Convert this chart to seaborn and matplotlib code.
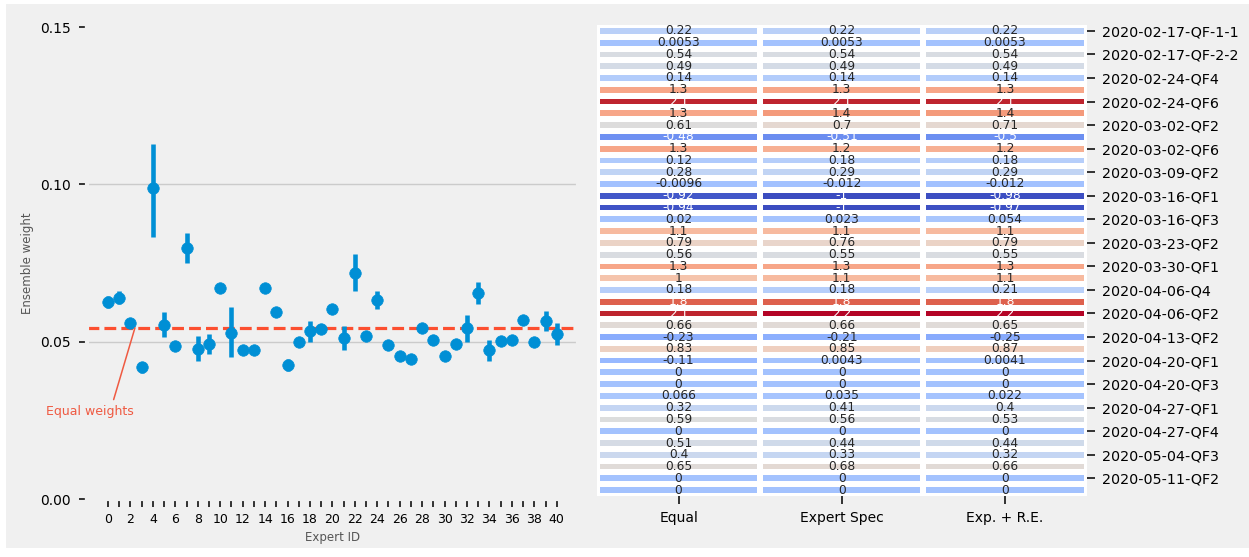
import matplotlib
matplotlib.use('Agg')
import matplotlib.pyplot as plt
from matplotlib.patches import Rectangle
import numpy as np
import pandas as pd
import seaborn as sns

plt.style.use('fivethirtyeight')

# ---- left panel: ensemble weight per expert (point, lower, upper) ----
expert_ids = list(range(41))
weight_mid = [0.0627, 0.0639, 0.0560, 0.0418, 0.0987, 0.0553, 0.0487, 0.0797, 0.0478, 0.0494,
              0.0671, 0.0529, 0.0475, 0.0472, 0.0671, 0.0595, 0.0427, 0.0500, 0.0533, 0.0541,
              0.0604, 0.0513, 0.0718, 0.0519, 0.0633, 0.0491, 0.0456, 0.0446, 0.0544, 0.0506,
              0.0456, 0.0494, 0.0544, 0.0655, 0.0475, 0.0503, 0.0506, 0.0570, 0.0500, 0.0566,
              0.0525]
weight_lo = [0.0606, 0.0620, 0.0555, 0.0400, 0.0832, 0.0515, 0.0487, 0.0750, 0.0440, 0.0461,
             0.0671, 0.0450, 0.0465, 0.0462, 0.0671, 0.0595, 0.0408, 0.0490, 0.0500, 0.0530,
             0.0604, 0.0475, 0.0660, 0.0510, 0.0603, 0.0482, 0.0448, 0.0440, 0.0535, 0.0490,
             0.0443, 0.0485, 0.0500, 0.0620, 0.0440, 0.0503, 0.0506, 0.0562, 0.0492, 0.0535,
             0.0490]
weight_hi = [0.0646, 0.0660, 0.0565, 0.0436, 0.1127, 0.0595, 0.0487, 0.0845, 0.0518, 0.0525,
             0.0671, 0.0611, 0.0485, 0.0482, 0.0671, 0.0595, 0.0446, 0.0510, 0.0566, 0.0555,
             0.0604, 0.0550, 0.0778, 0.0530, 0.0660, 0.0500, 0.0465, 0.0452, 0.0553, 0.0520,
             0.0468, 0.0504, 0.0585, 0.0690, 0.0506, 0.0503, 0.0506, 0.0580, 0.0508, 0.0598,
             0.0560]
equal_weight = 0.0544

# ---- right panel: heatmap ----
question_ids = [
    '2020-02-17-QF-1-1', '2020-02-17-QF-1-2', '2020-02-17-QF-2-2', '2020-02-24-QF3',
    '2020-02-24-QF4', '2020-02-24-QF5', '2020-02-24-QF6', '2020-03-02-QF1',
    '2020-03-02-QF2', '2020-03-02-QF4', '2020-03-02-QF6', '2020-03-09-QF1',
    '2020-03-09-QF2', '2020-03-09-QF3', '2020-03-16-QF1', '2020-03-16-QF2',
    '2020-03-16-QF3', '2020-03-23-QF1', '2020-03-23-QF2', '2020-03-23-QF3',
    '2020-03-30-QF1', '2020-03-30-QF2', '2020-04-06-Q4', '2020-04-06-QF1',
    '2020-04-06-QF2', '2020-04-06-QF3', '2020-04-13-QF2', '2020-04-13-QF3',
    '2020-04-20-QF1', '2020-04-20-QF2', '2020-04-20-QF3', '2020-04-20-QF4',
    '2020-04-27-QF1', '2020-04-27-QF2', '2020-04-27-QF4', '2020-05-04-QF1',
    '2020-05-04-QF3', '2020-05-04-QF4', '2020-05-11-QF2', '2020-05-11-QF3',
]
methods = ['Equal', 'Expert Spec', 'Exp. + R.E.']
equal_vals = [0.22, 0.0053, 0.54, 0.49, 0.14, 1.3, 2.1, 1.3, 0.61, -0.48,
              1.3, 0.12, 0.28, -0.0096, -0.92, -0.94, 0.02, 1.1, 0.79, 0.56,
              1.3, 1.0, 0.18, 1.8, 2.1, 0.66, -0.23, 0.83, -0.11, 0.0,
              0.0, 0.066, 0.32, 0.59, 0.0, 0.51, 0.4, 0.65, 0.0, 0.0]
spec_vals = [0.22, 0.0053, 0.54, 0.49, 0.14, 1.3, 2.1, 1.4, 0.7, -0.51,
             1.2, 0.18, 0.29, -0.012, -1.0, -1.0, 0.023, 1.1, 0.76, 0.55,
             1.3, 1.1, 0.18, 1.8, 2.2, 0.66, -0.21, 0.85, 0.0043, 0.0,
             0.0, 0.035, 0.41, 0.56, 0.0, 0.44, 0.33, 0.68, 0.0, 0.0]
re_vals = [0.22, 0.0053, 0.54, 0.49, 0.14, 1.3, 2.1, 1.4, 0.71, -0.5,
           1.2, 0.18, 0.29, -0.012, -0.98, -0.97, 0.054, 1.1, 0.79, 0.55,
           1.3, 1.1, 0.21, 1.8, 2.2, 0.65, -0.25, 0.87, 0.0041, 0.0,
           0.0, 0.022, 0.4, 0.53, 0.0, 0.44, 0.32, 0.66, 0.0, 0.0]

BG = '#f0f0f0'
BLUE = '#008fd5'
RED = '#fc4f30'

fig = plt.figure(figsize=(12.49, 5.57), dpi=100)
fig.patch.set_facecolor('white')
fig.patches.append(Rectangle((6 / 1249, 9 / 557), 1, 1 - 13 / 557,
                             transform=fig.transFigure, facecolor=BG,
                             edgecolor='none', zorder=-10))

ax1 = fig.add_axes([0.0697, 0.1041, 0.3931, 0.8474])
ax2 = fig.add_axes([0.478, 0.1095, 0.392, 0.8456])

# long form: each expert gets its low / mid / high -> median + full range
weights = pd.DataFrame({
    'expert': np.repeat(expert_ids, 3),
    'weight': np.column_stack([weight_lo, weight_mid, weight_hi]).ravel(),
})
sns.pointplot(data=weights, x='expert', y='weight', estimator='median',
              errorbar=('pi', 100), linestyle='none', color=BLUE,
              markersize=8.3, markeredgewidth=0.5,
              err_kws={'linewidth': 3.3}, ax=ax1)

ax1.axhline(equal_weight, color=RED, ls='--', lw=2.3, zorder=1)
ax1.annotate('Equal weights', xy=(2.4, equal_weight), xytext=(-1.6, 0.0278),
             ha='center', va='center', fontsize=9, color='#ef5a42',
             arrowprops=dict(arrowstyle='-', color='#ef5a42', lw=1.1,
                             relpos=(0.75, 1.0), shrinkA=2, shrinkB=0))

ax1.set_ylim(0, 0.15)
ax1.set_xlim(-1.87, 41.9)
ax1.set_yticks([0, 0.05, 0.10, 0.15])
ax1.set_yticklabels(['0.00', '0.05', '0.10', '0.15'])
ax1.set_xticks(expert_ids)
ax1.set_xticklabels([str(i) if i % 2 == 0 else '' for i in expert_ids])
ax1.grid(axis='x', visible=False)
ax1.set_facecolor(BG)
for s in ax1.spines.values():
    s.set_visible(True)
    s.set_color(BG)
    s.set_linewidth(3)
ax1.tick_params(axis='y', length=6, width=1.3, labelsize=10, color='#222222', pad=6)
ax1.tick_params(axis='x', length=6, width=1.3, labelsize=9, color='#222222', pad=4)
ax1.set_xlabel('Expert ID', fontsize=8.5, color='#555555')
ax1.set_ylabel('Ensemble weight', fontsize=8.5, color='#555555')

table = pd.DataFrame({methods[0]: equal_vals, methods[1]: spec_vals,
                      methods[2]: re_vals}, index=question_ids)
sns.heatmap(table, cmap='coolwarm', annot=True, annot_kws={'fontsize': 8.8},
            linewidths=3.2, linecolor='white', cbar=False, yticklabels=2, ax=ax2)
ax2.yaxis.tick_right()
ax2.set_yticks(ax2.get_yticks())
ax2.tick_params(axis='y', length=6, width=1.3, labelsize=10.3, rotation=0,
                color='#222222', pad=5, left=False, right=True)
ax2.tick_params(axis='x', length=6, width=1.3, labelsize=10, color='#222222', pad=5)
ax2.grid(False)
ax2.set_facecolor(BG)

fig.savefig('out.png', dpi=100, facecolor=fig.get_facecolor())
